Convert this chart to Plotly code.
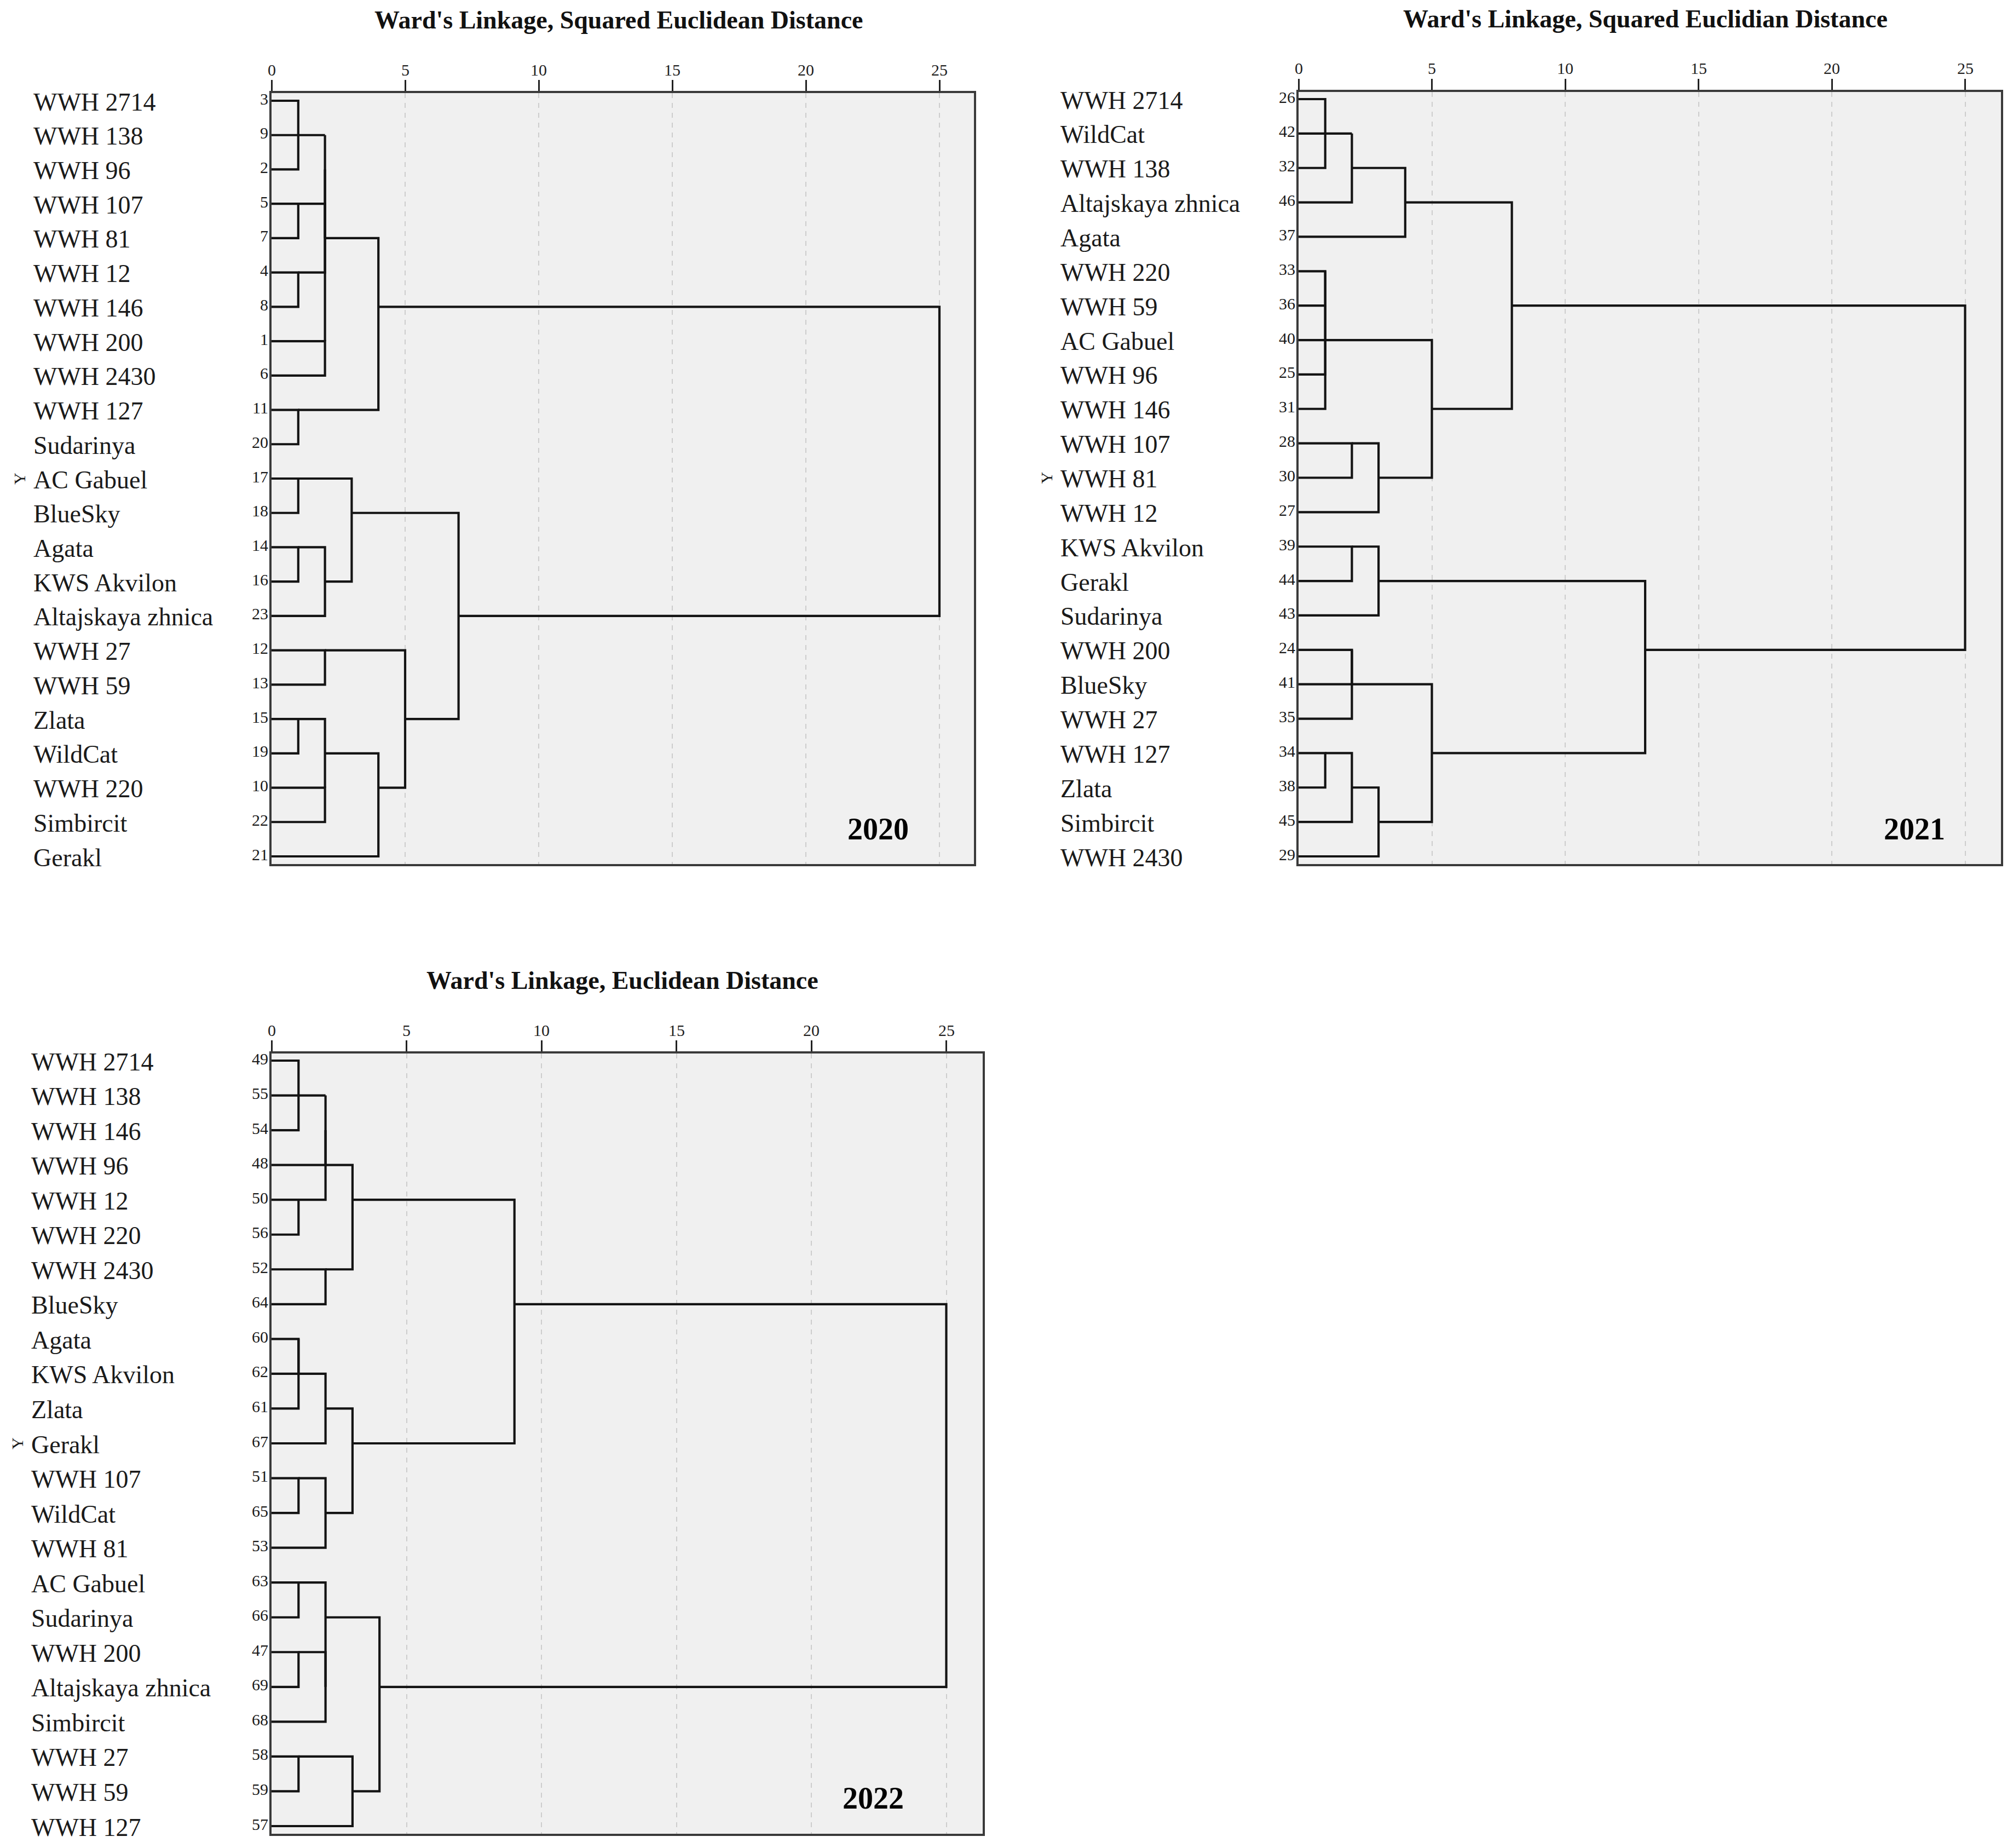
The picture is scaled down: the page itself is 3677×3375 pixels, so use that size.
import plotly.graph_objects as go

# leaf order (top to bottom) and case numbers for each year
names_2020 = ["WWH 2714", "WWH 138", "WWH 96", "WWH 107", "WWH 81", "WWH 12", "WWH 146",
              "WWH 200", "WWH 2430", "WWH 127", "Sudarinya", "AC Gabuel", "BlueSky", "Agata",
              "KWS Akvilon", "Altajskaya zhnica", "WWH 27", "WWH 59", "Zlata", "WildCat",
              "WWH 220", "Simbircit", "Gerakl"]
cases_2020 = [3, 9, 2, 5, 7, 4, 8, 1, 6, 11, 20, 17, 18, 14, 16, 23, 12, 13, 15, 19, 10, 22, 21]

names_2021 = ["WWH 2714", "WildCat", "WWH 138", "Altajskaya zhnica", "Agata", "WWH 220",
              "WWH 59", "AC Gabuel", "WWH 96", "WWH 146", "WWH 107", "WWH 81", "WWH 12",
              "KWS Akvilon", "Gerakl", "Sudarinya", "WWH 200", "BlueSky", "WWH 27", "WWH 127",
              "Zlata", "Simbircit", "WWH 2430"]
cases_2021 = [26, 42, 32, 46, 37, 33, 36, 40, 25, 31, 28, 30, 27, 39, 44, 43, 24, 41, 35, 34, 38, 45, 29]

names_2022 = ["WWH 2714", "WWH 138", "WWH 146", "WWH 96", "WWH 12", "WWH 220", "WWH 2430",
              "BlueSky", "Agata", "KWS Akvilon", "Zlata", "Gerakl", "WWH 107", "WildCat",
              "WWH 81", "AC Gabuel", "Sudarinya", "WWH 200", "Altajskaya zhnica", "Simbircit",
              "WWH 27", "WWH 59", "WWH 127"]
cases_2022 = [49, 55, 54, 48, 50, 56, 52, 64, 60, 62, 61, 67, 51, 65, 53, 63, 66, 47, 69, 68, 58, 59, 57]

# linkage: (node a, node b, rescaled distance); leaves are 0..22, merges 23..
link_2020 = [(0, 2, 1), (3, 4, 1), (5, 6, 1), (9, 10, 1), (11, 12, 1), (13, 14, 1), (18, 19, 1),
             (23, 1, 2), (7, 8, 2), (24, 25, 2), (30, 32, 2), (33, 31, 2), (34, 26, 4),
             (28, 15, 2), (27, 36, 3), (16, 17, 2), (20, 21, 2), (29, 39, 2), (40, 22, 4),
             (38, 41, 5), (37, 42, 7), (35, 43, 25)]
link_2021 = [(0, 2, 1), (23, 1, 2), (24, 3, 2), (25, 4, 4), (5, 6, 1), (7, 8, 1), (27, 28, 1),
             (29, 9, 1), (10, 11, 2), (31, 12, 3), (30, 32, 5), (26, 33, 8), (13, 14, 2),
             (35, 15, 3), (16, 17, 2), (37, 18, 2), (19, 20, 1), (39, 21, 2), (40, 22, 3),
             (38, 41, 5), (36, 42, 13), (34, 43, 25)]
link_2022 = [(0, 2, 1), (4, 5, 1), (23, 1, 2), (25, 3, 2), (26, 24, 2), (6, 7, 2), (27, 28, 3),
             (8, 9, 1), (30, 10, 1), (31, 11, 2), (12, 13, 1), (33, 14, 2), (32, 34, 3),
             (29, 35, 9), (15, 16, 1), (17, 18, 1), (38, 19, 2), (37, 39, 2), (20, 21, 1),
             (41, 22, 3), (40, 42, 4), (36, 43, 25)]

titles = ["Ward's Linkage, Squared Euclidean Distance",
          "Ward's Linkage, Squared Euclidian Distance",
          "Ward's Linkage, Euclidean Distance"]
years = ["2020", "2021", "2022"]
ticks = [0, 5, 10, 15, 20, 25]

W, H = 3677, 3375
FONT = "Liberation Serif"

# panel boxes in pixels: left (value 0), right, top, bottom, first/last row y, label x
panels = [
    dict(left=496, right=1779, top=170, bottom=1578, r0=184, r1=1564, lab=59, unit=48.8, yx=22.7),
    dict(left=2372, right=3655, top=168, bottom=1578, r0=181, r1=1564, lab=1935, unit=48.7, yx=23.1),
    dict(left=496, right=1795, top=1924, bottom=3349, r0=1937, r1=3335, lab=55, unit=49.3, yx=22.3),
]
data = [(names_2020, cases_2020, link_2020),
        (names_2021, cases_2021, link_2021),
        (names_2022, cases_2022, link_2022)]


def dendro_lines(n, link):
    row = list(range(n))
    hgt = [0] * n
    xs, ys = [], []
    for a, b, h in link:
        xs += [hgt[a], h, h, hgt[b], None]
        ys += [row[a], row[a], row[b], row[b], None]
        row.append((row[a] + row[b]) // 2)
        hgt.append(h)
    return xs, ys


fig = go.Figure()
ann = []
layout = {}
for i, (p, (names, cases, link)) in enumerate(zip(panels, data)):
    ax = "" if i == 0 else str(i + 1)
    n = len(names)
    sp = (p["r1"] - p["r0"]) / (n - 1)
    y_top = -(p["r0"] - p["top"]) / sp
    y_bot = (n - 1) + (p["bottom"] - p["r1"]) / sp
    x_max = (p["right"] - p["left"]) / p["unit"]

    xs, ys = dendro_lines(n, link)
    fig.add_trace(go.Scatter(x=xs, y=ys, mode="lines", xaxis="x" + ax, yaxis="y" + ax,
                             line=dict(color="#141414", width=4.2), hoverinfo="skip",
                             showlegend=False))

    layout["xaxis" + ax] = dict(
        domain=[p["left"] / W, p["right"] / W], range=[0, x_max], side="top",
        anchor="y" + ax, tickvals=ticks, showticklabels=False,
        ticks="outside", ticklen=20, tickwidth=3, tickcolor="#222",
        showgrid=True, gridcolor="#cdcdcd", gridwidth=2, griddash="dash",
        showline=True, linecolor="#3a3a3a", linewidth=3.5, mirror=True, zeroline=False)
    layout["yaxis" + ax] = dict(
        domain=[1 - p["bottom"] / H, 1 - p["top"] / H], range=[y_bot, y_top],
        anchor="x" + ax, showticklabels=False, ticks="", showgrid=False, zeroline=False,
        showline=True, linecolor="#3a3a3a", linewidth=3.5, mirror=True)

    # distance scale labels along the top
    for t in ticks:
        ann.append(dict(text=str(t), x=t, xref="x" + ax, y=1 - (p["top"] - 43) / H,
                        yref="paper", xanchor="center", yanchor="middle", showarrow=False,
                        font=dict(family=FONT, size=30, color="#222")))

    for k, (nm, cs) in enumerate(zip(names, cases)):
        ann.append(dict(text=nm, x=p["lab"] / W, xref="paper", y=k, yref="y" + ax,
                        xanchor="left", yanchor="middle", yshift=-2, showarrow=False,
                        font=dict(family=FONT, size=46, color="#1a1a1a")))
        ann.append(dict(text=str(cs), x=(p["left"] - 4) / W, xref="paper", y=k, yref="y" + ax,
                        xanchor="right", yanchor="middle", yshift=4, showarrow=False,
                        font=dict(family=FONT, size=30, color="#1a1a1a")))
    # rotated axis title glyph
    ann.append(dict(text="Y", x=(p["lab"] - 24) / W, xref="paper", y=11, yref="y" + ax,
                    xanchor="center", yanchor="middle", textangle=-90, showarrow=False,
                    font=dict(family=FONT, size=30, color="#1a1a1a")))
    ann.append(dict(text="<b>" + titles[i] + "</b>",
                    x=(p["left"] + 20.2 * p["unit"] * 0.64 + 4) / W, xref="paper",
                    y=1 - (p["top"] - 134) / H, yref="paper", xanchor="center",
                    yanchor="middle", showarrow=False,
                    font=dict(family=FONT, size=46, color="#111")))
    ann.append(dict(text="<b>" + years[i] + "</b>", x=p["yx"], xref="x" + ax,
                    y=n - 1.8, yref="y" + ax, xanchor="center", yanchor="middle",
                    showarrow=False, font=dict(family=FONT, size=56, color="#000")))

fig.update_layout(width=W, height=H, margin=dict(l=0, r=0, t=0, b=0),
                  paper_bgcolor="white", plot_bgcolor="#f0f0f0",
                  annotations=ann, **layout)
fig.write_html("out.html", config={"displayModeBar": False},
               post_script="document.body.style.margin='0';")
